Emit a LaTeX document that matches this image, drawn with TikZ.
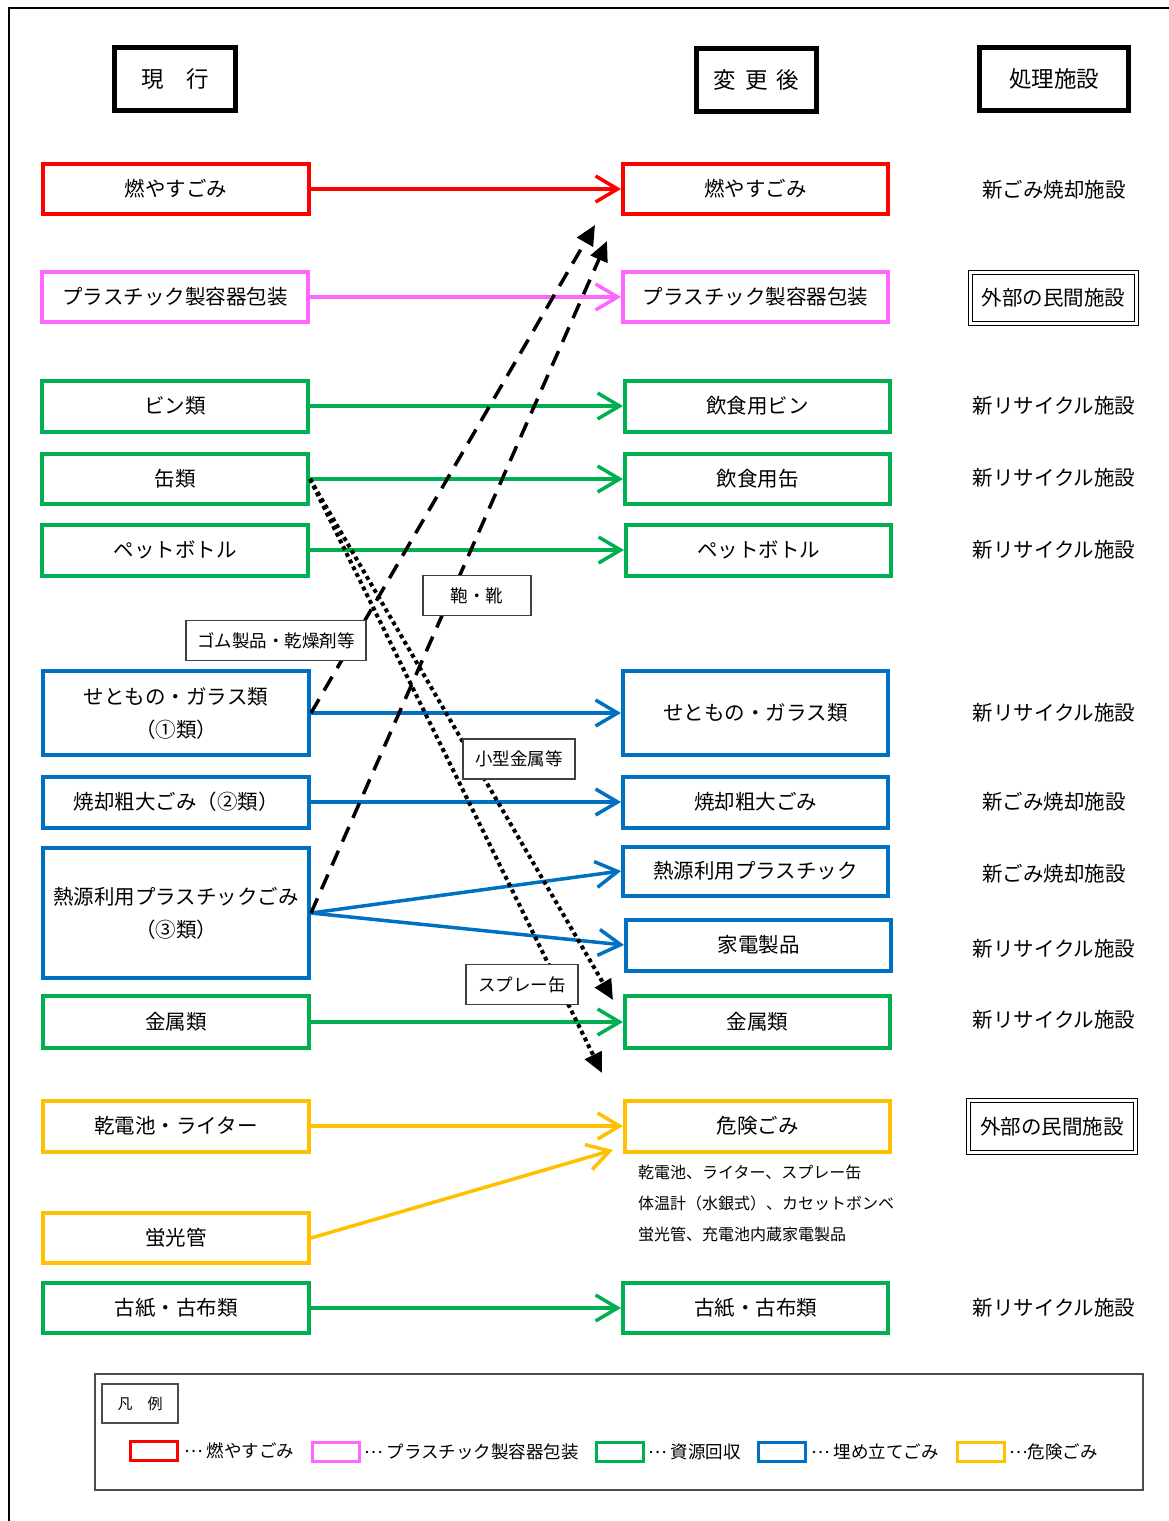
\documentclass[tikz,border=0pt]{standalone}
\usepackage{fontspec}
\newfontfamily\jp{Noto Sans CJK JP}
\usetikzlibrary{arrows.meta}
\definecolor{cRed}{HTML}{FF0000}
\definecolor{cMag}{HTML}{FF66FF}
\definecolor{cGrn}{HTML}{00B050}
\definecolor{cBlu}{HTML}{0070C0}
\definecolor{cYel}{HTML}{FFC000}
\newcommand{\mydots}{\raisebox{0.3em}{…}}
\tikzset{
  box/.style={draw, line width=4pt, minimum width=266pt, minimum height=50pt, inner sep=2pt,
    font=\jp\fontsize{20.5}{33}\selectfont, align=center},
  hdr/.style={draw, line width=4.5pt, minimum height=63pt, inner sep=2pt, font=\jp\fontsize{22.5}{27}\selectfont},
  fac/.style={font=\jp\fontsize{20.5}{25}\selectfont, inner sep=2pt},
  facbox/.style={fac, draw, double, double distance=2.5pt, line width=1.2pt},
  lbl/.style={draw=black!75, fill=white, line width=1.2pt, minimum height=40pt, inner sep=2pt,
    font=\jp\fontsize{17.5}{21}\selectfont},
  flow/.style={line width=3.5pt, -{Straight Barb[length=22pt,width=26pt]}},
  dashedarrow/.style={line width=3.5pt, dash pattern=on 16pt off 10pt, -{Triangle[length=20pt,width=18pt]}},
  dottedarrow/.style={line width=4pt, dash pattern=on 4pt off 3.5pt, -{Triangle[length=20pt,width=18pt]}},
  note/.style={anchor=west, inner sep=0pt, font=\jp\fontsize{16}{20}\selectfont},
  swatch/.style={draw, line width=3pt, minimum width=47pt, minimum height=19pt, inner sep=0pt},
  legtext/.style={anchor=west, inner sep=0pt, font=\jp\fontsize{17.5}{21}\selectfont},
}
\begin{document}
\begin{tikzpicture}[x=1pt,y=-1pt]
\useasboundingbox (0,0) rectangle (1169,1521);
% outer frame
\draw[line width=2pt] (9,1530) -- (9,8) -- (1175,8);

% headers
\node[hdr, minimum width=121pt] (H1) at (175,79) {現　行};
\node[hdr, minimum width=120pt] (H2) at (756.5,80) {変\hspace{9pt}更\hspace{9pt}後};
\node[hdr, minimum width=149pt] (H3) at (1054,79) {処理施設};

% left column
\node[box, cRed, text=black] (L1) at (176,189) {燃やすごみ};
\node[box, cMag, text=black] (L2) at (175,297) {プラスチック製容器包装};
\node[box, cGrn, text=black, minimum height=51pt] (L3) at (175,406) {ビン類};
\node[box, cGrn, text=black] (L4) at (175,479) {缶類};
\node[box, cGrn, text=black, minimum height=51pt] (L5) at (175,550) {ペットボトル};
\node[box, cBlu, text=black, minimum height=84pt] (L6) at (176,713) {せともの・ガラス類\\（①類）};
\node[box, cBlu, text=black, minimum height=51pt] (L7) at (176,802) {焼却粗大ごみ（②類）};
\node[box, cBlu, text=black, minimum height=130pt] (L8) at (176,913) {熱源利用プラスチックごみ\\（③類）};
\node[box, cGrn, text=black, minimum height=52pt] (L9) at (176,1022) {金属類};
\node[box, cYel, text=black, minimum height=51pt] (L10) at (176,1126) {乾電池・ライター};
\node[box, cYel, text=black] (L11) at (176,1238) {蛍光管};
\node[box, cGrn, text=black] (L12) at (176,1308) {古紙・古布類};

% right column
\node[box, cRed, text=black, minimum width=265pt] (R1) at (755.5,189) {燃やすごみ};
\node[box, cMag, text=black, minimum width=265pt] (R2) at (755.5,297) {プラスチック製容器包装};
\node[box, cGrn, text=black, minimum width=265pt, minimum height=51pt] (R3) at (757.5,406) {飲食用ビン};
\node[box, cGrn, text=black, minimum width=265pt] (R4) at (757.5,479) {飲食用缶};
\node[box, cGrn, text=black, minimum width=265pt, minimum height=51pt] (R5) at (758.5,550) {ペットボトル};
\node[box, cBlu, text=black, minimum width=265pt, minimum height=84pt] (R6) at (755.5,713) {せともの・ガラス類};
\node[box, cBlu, text=black, minimum width=265pt, minimum height=51pt] (R7) at (755.5,802) {焼却粗大ごみ};
\node[box, cBlu, text=black, minimum width=265pt, minimum height=49pt] (R8) at (755.5,871) {熱源利用プラスチック};
\node[box, cBlu, text=black, minimum width=265pt, minimum height=51pt] (R9) at (758.5,945) {家電製品};
\node[box, cGrn, text=black, minimum width=265pt, minimum height=52pt] (R10) at (757.5,1022) {金属類};
\node[box, cYel, text=black, minimum width=265pt, minimum height=51pt] (R11) at (757.5,1126) {危険ごみ};
\node[box, cGrn, text=black, minimum width=265pt] (R12) at (755.5,1308) {古紙・古布類};

% notes under danger box
\node[note] (N1) at (638,1172) {乾電池、ライター、スプレー缶};
\node[note] (N2) at (638,1203) {体温計（水銀式）、カセットボンベ};
\node[note] (N3) at (638,1234) {蛍光管、充電池内蔵家電製品};

% facilities
\node[fac] (F1) at (1054,190) {新ごみ焼却施設};
\node[facbox, minimum width=166pt, minimum height=51pt] (F2) at (1053.5,298) {外部の民間施設};
\node[fac] (F3) at (1054,406) {新リサイクル施設};
\node[fac] (F4) at (1054,478) {新リサイクル施設};
\node[fac] (F5) at (1054,550) {新リサイクル施設};
\node[fac] (F6) at (1054,713) {新リサイクル施設};
\node[fac] (F7) at (1054,802) {新ごみ焼却施設};
\node[fac] (F8) at (1054,874) {新ごみ焼却施設};
\node[fac] (F9) at (1054,949) {新リサイクル施設};
\node[fac] (F10) at (1054,1020) {新リサイクル施設};
\node[facbox, minimum width=167pt, minimum height=52pt] (F11) at (1052,1126.5) {外部の民間施設};
\node[fac] (F12) at (1054,1308) {新リサイクル施設};

% flows
\draw[flow, cRed] (L1.east) -- (R1.west);
\draw[flow, cMag] (L2.east) -- (R2.west);
\draw[flow, cGrn] (L3.east) -- (R3.west);
\draw[flow, cGrn] (L4.east) -- (R4.west);
\draw[flow, cGrn] (L5.east) -- (R5.west);
\draw[flow, cBlu] (L6.east) -- (R6.west);
\draw[flow, cBlu] (L7.east) -- (R7.west);
\draw[flow, cBlu] (L8.east) -- (R8.west);
\draw[flow, cBlu] (L8.east) -- (R9.west);
\draw[flow, cGrn] (L9.east) -- (R10.west);
\draw[flow, cYel] (L10.east) -- (R11.west);
\coordinate (k) at (613,1150);
\draw[flow, cYel] (L11.east) -- (k);
\draw[flow, cGrn] (L12.east) -- (R12.west);

% dashed and dotted
\coordinate (d1) at (595,225);
\coordinate (d2) at (607,241);
\coordinate (t1) at (613,1000);
\coordinate (t2) at (602,1073);
\draw[dashedarrow] (L6.east) -- (d1);
\draw[dashedarrow] (L8.east) -- (d2);
\draw[dottedarrow] (L4.east) -- (t1);
\draw[dottedarrow] (L4.east) -- (t2);

% labels
\node[lbl, minimum width=108pt] (B1) at (477,595.5) {鞄・靴};
\node[lbl, minimum width=180pt] (B2) at (276,640.5) {ゴム製品・乾燥剤等};
\node[lbl, minimum width=112pt] (B3) at (519,759) {小型金属等};
\node[lbl, minimum width=112pt] (B4) at (522,984.5) {スプレー缶};

% legend
\node[draw=black!70, line width=1.2pt, minimum width=1048pt, minimum height=116pt] (leg) at (619,1432) {};
\node[draw=black!70, line width=1.2pt, minimum width=76pt, minimum height=39pt, font=\jp\fontsize{15}{18}\selectfont] (legt) at (140,1403.5) {凡　例};
\node[swatch, cRed] (S1) at (154,1451) {};
\node[legtext] (T1) at (184,1451) {\mydots{} 燃やすごみ};
\node[swatch, cMag] (S2) at (336,1452) {};
\node[legtext] (T2) at (364,1452) {\mydots{} プラスチック製容器包装};
\node[swatch, cGrn] (S3) at (620,1452) {};
\node[legtext] (T3) at (648,1452) {\mydots{} 資源回収};
\node[swatch, cBlu] (S4) at (782,1452) {};
\node[legtext] (T4) at (811,1452) {\mydots{} 埋め立てごみ};
\node[swatch, cYel] (S5) at (980.5,1452) {};
\node[legtext] (T5) at (1009,1452) {\mydots{}危険ごみ};
\end{tikzpicture}
\end{document}
